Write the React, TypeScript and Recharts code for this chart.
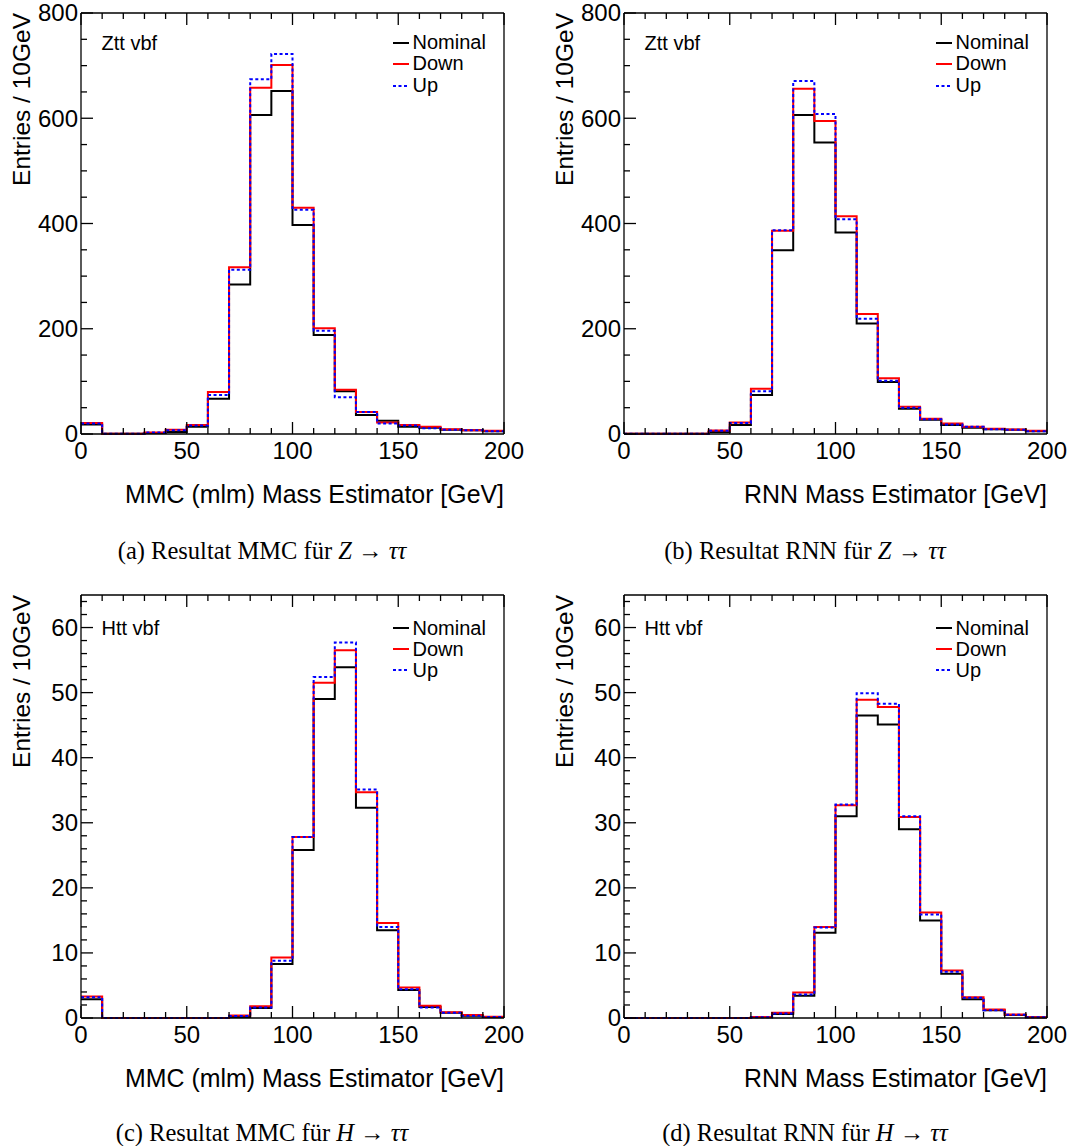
import React from 'react';
import { LineChart, Line, XAxis, YAxis, Legend } from 'recharts';

// ---------- data ----------
const binEdges = [0, 10, 20, 30, 40, 50, 60, 70, 80, 90, 100, 110, 120, 130, 140, 150, 160, 170, 180, 190, 200];
const xLabelTicks = [0, 50, 100, 150, 200];
const zttYTicks = [0, 50, 100, 150, 200, 250, 300, 350, 400, 450, 500, 550, 600, 650, 700, 750, 800];
const zttYLabelTicks = [0, 200, 400, 600, 800];
const httYTicks = [0, 2, 4, 6, 8, 10, 12, 14, 16, 18, 20, 22, 24, 26, 28, 30, 32, 34, 36, 38, 40, 42, 44, 46, 48, 50, 52, 54, 56, 58, 60, 62, 64];
const httYLabelTicks = [0, 10, 20, 30, 40, 50, 60];

// (a) Z -> tautau, MMC
const zttMmcNominal = [18, 0.5, 0.5, 2, 4, 14, 67, 284, 606, 652, 397, 188, 81, 36, 25, 14, 12, 8, 7, 5];
const zttMmcDown = [21, 0.5, 0.5, 3, 8, 17, 80, 317, 658, 701, 430, 201, 84, 42, 22, 17, 14, 9, 7, 6];
const zttMmcUp = [20, 0.5, 0.5, 3, 7, 16, 74, 312, 674, 722, 426, 196, 70, 42, 20, 16, 11, 8, 7, 5];

// (b) Z -> tautau, RNN
const zttRnnNominal = [0.5, 0.5, 0.5, 0.5, 4, 17, 74, 349, 606, 554, 383, 210, 99, 48, 27, 17, 12, 9, 8, 5];
const zttRnnDown = [0.5, 0.5, 0.5, 0.5, 6.5, 22, 86, 386, 656, 595, 414, 228, 106, 52, 29, 20, 14, 10, 8.5, 6];
const zttRnnUp = [0.5, 0.5, 0.5, 0.5, 6, 21, 81, 387, 671, 608, 408, 219, 101, 50, 28, 18, 14, 9, 8, 5];

// (c) H -> tautau, MMC
const httMmcNominal = [2.9, 0, 0, 0, 0, 0, 0, 0.17, 1.55, 8.3, 25.8, 49.0, 53.9, 32.3, 13.5, 4.3, 1.7, 0.8, 0.35, 0.15];
const httMmcDown = [3.3, 0, 0, 0, 0, 0, 0, 0.4, 1.8, 9.3, 27.8, 51.5, 56.5, 34.7, 14.6, 4.7, 1.9, 0.9, 0.45, 0.2];
const httMmcUp = [3.2, 0, 0, 0, 0, 0, 0, 0.3, 1.6, 8.8, 27.8, 52.4, 57.7, 35.1, 14.0, 4.4, 1.6, 0.8, 0.35, 0.15];

// (d) H -> tautau, RNN
const httRnnNominal = [0, 0, 0, 0, 0, 0, 0.1, 0.6, 3.4, 13.1, 31.0, 46.5, 45.1, 29.0, 15.0, 6.8, 2.9, 1.2, 0.45, 0.1];
const httRnnDown = [0, 0, 0, 0, 0, 0, 0.15, 0.8, 3.9, 14.0, 32.7, 48.9, 47.8, 30.9, 16.2, 7.3, 3.2, 1.3, 0.55, 0.12];
const httRnnUp = [0, 0, 0, 0, 0, 0, 0.12, 0.7, 3.6, 13.9, 32.8, 49.9, 48.3, 31.0, 15.9, 7.1, 3.1, 1.2, 0.5, 0.1];

const seriesNames = ['Nominal', 'Down', 'Up'];
const seriesKeys = ['nominal', 'down', 'up'];

// ---------- styling ----------
const FONT = '"Liberation Sans", Arial, Helvetica, sans-serif';
const SERIF = '"Liberation Serif", "Times New Roman", serif';
const seriesStyle: Record<string, { color: string; dash?: string }> = {
  nominal: { color: '#000000' },
  down: { color: '#ff0000' },
  up: { color: '#0000ff', dash: '3 2.5' },
};
const MAJOR = 12;
const MINOR = 6;
const FRAME_W = 1.3;
const CHART_W = 531;
const CHART_H = 560;
const PLOT_LEFT = 81;
const PLOT_TOP = 13;
const PLOT_W = 423;
const AX = 1; // thickness reserved by each axis

function buildRows(nom: number[], down: number[], up: number[]) {
  return binEdges.map((edge, i) => {
    const j = Math.min(i, nom.length - 1);
    return { x: edge, nominal: nom[j], down: down[j], up: up[j] };
  });
}

// ---------- tick renderers ----------
const bottomTick = (p: any) => {
  const v = p.payload.value;
  const major = xLabelTicks.includes(v);
  return (
    <g>
      <line x1={p.x} x2={p.x} y1={p.y} y2={p.y - (major ? MAJOR : MINOR)} stroke="#000" strokeWidth={FRAME_W} />
      {major && (
        <text x={p.x} y={p.y + 16.5} dy="0.35em" textAnchor="middle" fontSize={24} fontFamily={FONT} fill="#000">
          {v}
        </text>
      )}
    </g>
  );
};
const topTick = (p: any) => {
  const v = p.payload.value;
  const major = xLabelTicks.includes(v);
  return <line x1={p.x} x2={p.x} y1={p.y} y2={p.y + (major ? MAJOR : MINOR)} stroke="#000" strokeWidth={FRAME_W} />;
};
const makeLeftTick = (labels: number[]) => (p: any) => {
  const v = p.payload.value;
  const major = labels.includes(v);
  return (
    <g>
      <line x1={p.x} x2={p.x + (major ? MAJOR : MINOR)} y1={p.y} y2={p.y} stroke="#000" strokeWidth={FRAME_W} />
      {major && (
        <text x={p.x - 3} y={p.y} dy="0.35em" textAnchor="end" fontSize={24} fontFamily={FONT} fill="#000">
          {v}
        </text>
      )}
    </g>
  );
};
const makeRightTick = (labels: number[]) => (p: any) => {
  const v = p.payload.value;
  const major = labels.includes(v);
  return <line x1={p.x} x2={p.x - (major ? MAJOR : MINOR)} y1={p.y} y2={p.y} stroke="#000" strokeWidth={FRAME_W} />;
};

// ---------- panel ----------
type PanelDef = {
  id: string;
  left: number;
  top: number;
  plotH: number;
  tag: string;
  xTitle: string;
  yMax: number;
  yTicks: number[];
  yLabels: number[];
  textOffsets: number[];
  captionPrefix: string;
  boson: string;
  rows: any[];
};

const panels: PanelDef[] = [
  {
    id: 'a', left: 0, top: 0, plotH: 421, tag: 'Ztt vbf', xTitle: 'MMC (mlm) Mass Estimator [GeV]',
    yMax: 800, yTicks: zttYTicks, yLabels: zttYLabelTicks, textOffsets: [29.5, 51, 72.5],
    captionPrefix: '(a) Resultat MMC für ', boson: 'Z', rows: buildRows(zttMmcNominal, zttMmcDown, zttMmcUp),
  },
  {
    id: 'b', left: 543, top: 0, plotH: 421, tag: 'Ztt vbf', xTitle: 'RNN Mass Estimator [GeV]',
    yMax: 800, yTicks: zttYTicks, yLabels: zttYLabelTicks, textOffsets: [29.5, 51, 72.5],
    captionPrefix: '(b) Resultat RNN für ', boson: 'Z', rows: buildRows(zttRnnNominal, zttRnnDown, zttRnnUp),
  },
  {
    id: 'c', left: 0, top: 582, plotH: 423, tag: 'Htt vbf', xTitle: 'MMC (mlm) Mass Estimator [GeV]',
    yMax: 65, yTicks: httYTicks, yLabels: httYLabelTicks, textOffsets: [33, 54, 75.5],
    captionPrefix: '(c) Resultat MMC für ', boson: 'H', rows: buildRows(httMmcNominal, httMmcDown, httMmcUp),
  },
  {
    id: 'd', left: 543, top: 582, plotH: 423, tag: 'Htt vbf', xTitle: 'RNN Mass Estimator [GeV]',
    yMax: 65, yTicks: httYTicks, yLabels: httYLabelTicks, textOffsets: [33, 54, 75.5],
    captionPrefix: '(d) Resultat RNN für ', boson: 'H', rows: buildRows(httRnnNominal, httRnnDown, httRnnUp),
  },
];

function Panel({ def }: { def: PanelDef }) {
  const plotBottom = PLOT_TOP + def.plotH;
  const rowH = def.textOffsets[1] - def.textOffsets[0];
  const legendContent = () => (
    <div style={{ fontFamily: FONT, fontSize: 20, color: '#000' }}>
      {seriesKeys.map((k, i) => (
        <div key={k} style={{ display: 'flex', alignItems: 'center', height: rowH, whiteSpace: 'nowrap' }}>
          <svg width={16} height={8} style={{ display: 'block' }}>
            <line x1={0} x2={16} y1={4} y2={4} stroke={seriesStyle[k].color} strokeWidth={2} strokeDasharray={seriesStyle[k].dash} />
          </svg>
          <span style={{ marginLeft: 4, lineHeight: `${rowH}px` }}>{seriesNames[i]}</span>
        </div>
      ))}
    </div>
  );
  const xTitle = () => (
    <text x={PLOT_LEFT + PLOT_W} y={plotBottom + 60} dy="0.35em" textAnchor="end" fontSize={24.9} fontFamily={FONT} fill="#000">
      {def.xTitle}
    </text>
  );
  const yTitle = () => {
    const x = PLOT_LEFT - 60;
    const y = PLOT_TOP;
    return (
      <text x={x} y={y} dy="0.35em" transform={`rotate(-90, ${x}, ${y})`} textAnchor="end" fontSize={24.5} fontFamily={FONT} fill="#000">
        Entries / 10GeV
      </text>
    );
  };
  const tagLabel = () => (
    <text x={PLOT_LEFT + 20.5} y={PLOT_TOP + def.textOffsets[0]} dy="0.35em" textAnchor="start" fontSize={20} fontFamily={FONT} fill="#000">
      {def.tag}
    </text>
  );

  return (
    <div style={{ position: 'absolute', left: def.left, top: def.top, width: CHART_W, height: CHART_H }}>
      <LineChart
        width={CHART_W}
        height={CHART_H}
        data={def.rows}
        margin={{
          top: PLOT_TOP - AX,
          left: PLOT_LEFT - AX,
          right: CHART_W - PLOT_LEFT - PLOT_W - AX,
          bottom: CHART_H - PLOT_TOP - def.plotH - AX,
        }}
      >
        <XAxis
          xAxisId="bottom"
          dataKey="x"
          type="number"
          domain={[0, 200]}
          ticks={binEdges}
          interval={0}
          orientation="bottom"
          height={AX}
          tickSize={0}
          tickMargin={0}
          tickLine={false}
          tick={bottomTick}
          axisLine={{ stroke: '#000', strokeWidth: FRAME_W }}
          label={xTitle}
        />
        <XAxis
          xAxisId="top"
          dataKey="x"
          type="number"
          domain={[0, 200]}
          ticks={binEdges}
          interval={0}
          orientation="top"
          height={AX}
          tickSize={0}
          tickMargin={0}
          tickLine={false}
          tick={topTick}
          axisLine={{ stroke: '#000', strokeWidth: FRAME_W }}
          label={tagLabel}
        />
        <YAxis
          yAxisId="left"
          type="number"
          domain={[0, def.yMax]}
          ticks={def.yTicks}
          interval={0}
          orientation="left"
          width={AX}
          tickSize={0}
          tickMargin={0}
          tickLine={false}
          tick={makeLeftTick(def.yLabels)}
          axisLine={{ stroke: '#000', strokeWidth: FRAME_W }}
          label={yTitle}
        />
        <YAxis
          yAxisId="right"
          type="number"
          domain={[0, def.yMax]}
          ticks={def.yTicks}
          interval={0}
          orientation="right"
          width={AX}
          tickSize={0}
          tickMargin={0}
          tickLine={false}
          tick={makeRightTick(def.yLabels)}
          axisLine={{ stroke: '#000', strokeWidth: FRAME_W }}
        />
        {seriesKeys.map((k, i) => (
          <Line
            key={k}
            xAxisId="bottom"
            yAxisId="left"
            type="stepAfter"
            dataKey={k}
            name={seriesNames[i]}
            stroke={seriesStyle[k].color}
            strokeWidth={2}
            strokeDasharray={seriesStyle[k].dash}
            dot={false}
            activeDot={false}
            isAnimationActive={false}
          />
        ))}
        <Legend
          layout="horizontal"
          verticalAlign="middle"
          align="center"
          content={legendContent}
          wrapperStyle={{
            left: PLOT_LEFT + 311.5,
            top: PLOT_TOP + def.textOffsets[0] - rowH / 2,
            width: 130,
            height: rowH * 3,
            margin: 0,
            padding: 0,
          }}
        />
      </LineChart>
      <div
        style={{
          position: 'absolute',
          left: 0,
          width: 524,
          top: 538.5,
          textAlign: 'center',
          fontFamily: SERIF,
          fontSize: 24.5,
          lineHeight: '24px',
          whiteSpace: 'nowrap',
          color: '#000',
        }}
      >
        {def.captionPrefix}
        <i>{def.boson}</i>
        {' → '}
        <i>ττ</i>
      </div>
    </div>
  );
}

export default function App() {
  return (
    <div style={{ position: 'absolute', left: 0, top: 0, width: 1074, height: 1146, background: '#fff' }}>
      {panels.map((p) => (
        <Panel key={p.id} def={p} />
      ))}
    </div>
  );
}
